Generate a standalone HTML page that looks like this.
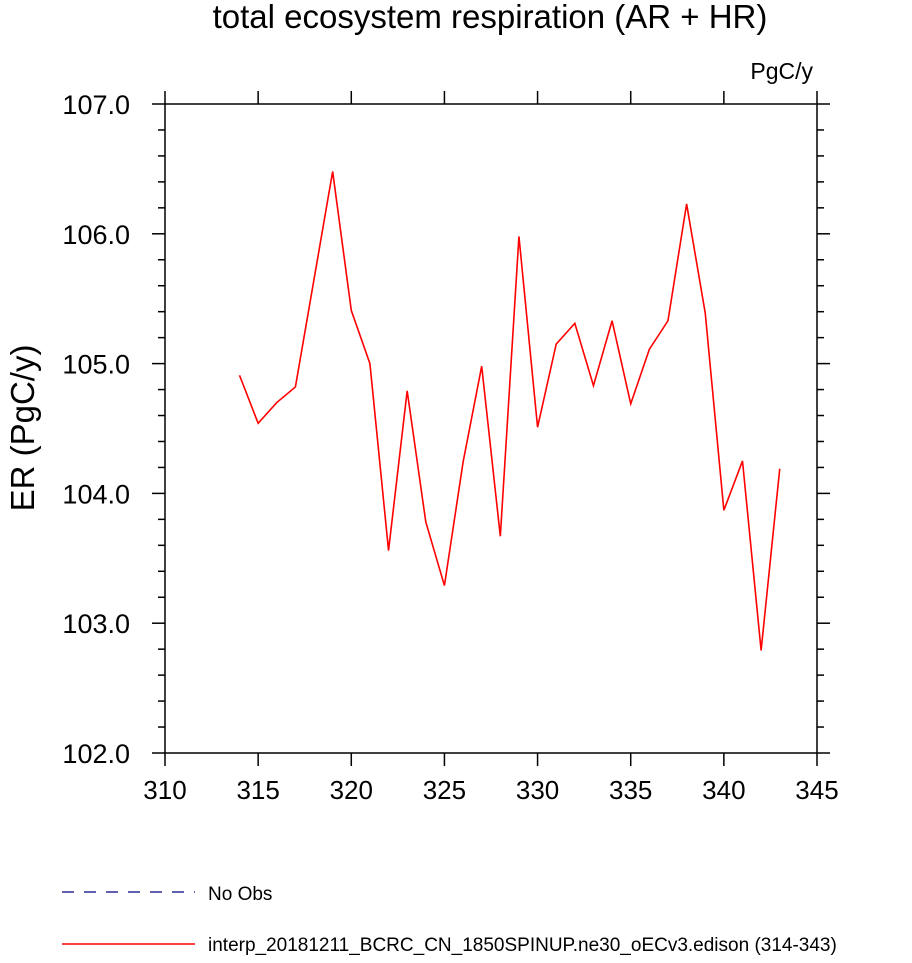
<!DOCTYPE html>
<html><head><meta charset="utf-8"><style>
body{margin:0;background:#fff;}
svg text{font-family:"Liberation Sans",sans-serif;fill:#000;}
</style></head><body>
<svg width="912" height="958" viewBox="0 0 912 958">
<text x="490" y="28" font-size="33" text-anchor="middle">total ecosystem respiration (AR + HR)</text>
<text x="813" y="79" font-size="23" text-anchor="end">PgC/y</text>
<text transform="translate(34,428) rotate(-90)" font-size="33" text-anchor="middle">ER  (PgC/y)</text>
<g id="axes"></g>
<g id="series"></g>
<g>
<line x1="62" y1="892" x2="195" y2="892" stroke="#000080" stroke-width="1.3" stroke-dasharray="12,10"/>
<text x="208" y="900" font-size="19">No Obs</text>
<line x1="62" y1="944" x2="195" y2="944" stroke="#ff0000" stroke-width="1.5"/>
<text x="208" y="951" font-size="19">interp_20181211_BCRC_CN_1850SPINUP.ne30_oECv3.edison (314-343)</text>
</g>
</svg>
<script>
const years=[314,315,316,317,318,319,320,321,322,323,324,325,326,327,328,329,330,331,332,333,334,335,336,337,338,339,340,341,342,343];
const values=[104.91,104.54,104.70,104.82,105.65,106.48,105.41,105.00,103.56,104.79,103.78,103.29,104.24,104.98,103.67,105.98,104.51,105.15,105.31,104.83,105.33,104.69,105.11,105.33,106.23,105.39,103.87,104.25,102.79,104.19];
const xTicks=[310,315,320,325,330,335,340,345];
const yTicks=[102,103,104,105,106,107];
const L=165,R=817,T=104,B=753,x0=310,x1=345,y0=102,y1=107;
const xs=v=>L+(v-x0)/(x1-x0)*(R-L);
const ys=v=>B-(v-y0)/(y1-y0)*(B-T);
const NS="http://www.w3.org/2000/svg";
const ax=document.getElementById('axes');
function mk(tag,attrs,parent){const e=document.createElementNS(NS,tag);for(const k in attrs)e.setAttribute(k,attrs[k]);parent.appendChild(e);return e;}
const frame=mk('rect',{x:L,y:T,width:R-L,height:B-T,fill:'none',stroke:'#000','stroke-width':1.5},ax);


xTicks.forEach(v=>{
  const x=xs(v);
  const t1=mk('line',{x1:x,y1:B,x2:x,y2:B+13,stroke:'#000','stroke-width':1.5},ax);
  
  
  mk('line',{x1:x,y1:T,x2:x,y2:T-13,stroke:'#000','stroke-width':1.5},ax);
  const tx=mk('text',{x:x,y:B+46,'font-size':26,'text-anchor':'middle'},ax);
  tx.textContent=String(v);
  
  
});
for(let v=y0;v<=y1+1e-9;v+=0.2){
  const y=ys(v);const major=Math.abs(v-Math.round(v))<1e-6;const len=major?13:7;
  mk('line',{x1:L,y1:y,x2:L-len,y2:y,stroke:'#000','stroke-width':1.5},ax);
  mk('line',{x1:R,y1:y,x2:R+len,y2:y,stroke:'#000','stroke-width':1.5},ax);
}
yTicks.forEach(v=>{
  const tx=mk('text',{x:L-35,y:ys(v)+10,'font-size':27,'text-anchor':'end'},ax);
  tx.textContent=v.toFixed(1);
  
  
});
const pl=mk('polyline',{points:years.map((yr,i)=>xs(yr)+','+ys(values[i])).join(' '),fill:'none',stroke:'#ff0000','stroke-width':1.6},document.getElementById('series'));


</script>
</body></html>
